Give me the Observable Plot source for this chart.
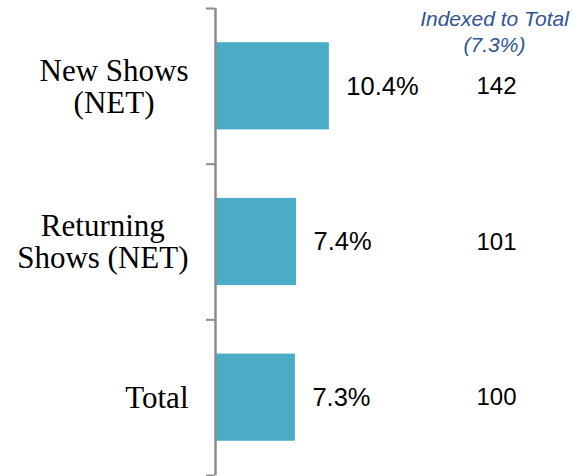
<!DOCTYPE html>
<html>
<head>
<meta charset="utf-8">
<script src="https://cdn.jsdelivr.net/npm/d3@7"></script>
<script src="https://cdn.jsdelivr.net/npm/@observablehq/plot@0.6"></script>
<style>
  html, body { margin: 0; padding: 0; background: #fff; }
  #chart { width: 573px; height: 476px; }
</style>
</head>
<body>
<div id="chart"></div>
<script>
const categories = ["New Shows\n(NET)", "Returning\nShows (NET)", "Total"];
const values = [10.4, 7.4, 7.3];
const valueLabels = ["10.4%", "7.4%", "7.3%"];
const indexValues = [142, 101, 100];
const headerText = "Indexed to Total\n(7.3%)";
const yTicks = [0, 1, 2, 3];

const rows = categories.map((c, i) => ({
  i, category: c, value: values[i], label: valueLabels[i], index: indexValues[i]
}));

const axisColor = "#8c8c8c";
const barColor = "#4bacc6";

const svg = Plot.plot({
  width: 573,
  height: 476,
  marginLeft: 215,
  marginRight: 0,
  marginTop: 8,
  marginBottom: 1,
  style: { background: "#fff", overflow: "visible" },
  x: { domain: [0, 32.7], axis: null },
  y: { domain: [0, 3], reverse: true, axis: null },
  marks: [
    Plot.rectX(rows, {
      x1: 0, x2: "value",
      y1: d => d.i + 0.22, y2: d => d.i + 0.78,
      fill: barColor
    }),
    Plot.axisY({
      ticks: yTicks, tickSize: 9, tickFormat: () => "",
      stroke: axisColor, strokeWidth: 2
    }),
    Plot.ruleX([0], { stroke: axisColor, strokeWidth: 2.5 }),
    Plot.text(rows, {
      x: "value", y: d => d.i + 0.5, text: "label",
      textAnchor: "start", dx: 17,
      fontSize: 25.5, fontFamily: "'Liberation Sans', Arial, sans-serif", fill: "#000"
    }),
    Plot.text(rows, {
      y: d => d.i + 0.5, text: d => String(d.index),
      frameAnchor: "right", dx: -77, textAnchor: "middle",
      fontSize: 24, fontFamily: "'Liberation Sans', Arial, sans-serif", fill: "#000"
    }),
    Plot.text([headerText], {
      text: d => d, frameAnchor: "top-right", dx: -79, dy: 0,
      textAnchor: "middle", lineAnchor: "top", lineHeight: 1.2,
      fontSize: 21, fontStyle: "italic",
      fontFamily: "'Liberation Sans', Arial, sans-serif", fill: "#2f5496"
    }),
    Plot.text(rows, {
      y: d => d.i + 0.5, text: "category",
      frameAnchor: "left", dx: -27, textAnchor: "end",
      lineHeight: 1.03, fontSize: 31,
      fontFamily: "'Liberation Serif', 'Times New Roman', serif", fill: "#000"
    })
  ]
});

document.getElementById("chart").appendChild(svg);

// center each line within a right-aligned label block
const textGroups = svg.querySelectorAll('g[aria-label="text"]');
const g = textGroups[textGroups.length - 1];
if (g) {
  g.querySelectorAll("text").forEach(t => {
    const w = t.getBBox().width;
    const spans = t.querySelectorAll("tspan");
    if (spans.length) {
      t.setAttribute("text-anchor", "middle");
      spans.forEach(s => s.setAttribute("x", -w / 2));
    }
  });
}
</script>
</body>
</html>
